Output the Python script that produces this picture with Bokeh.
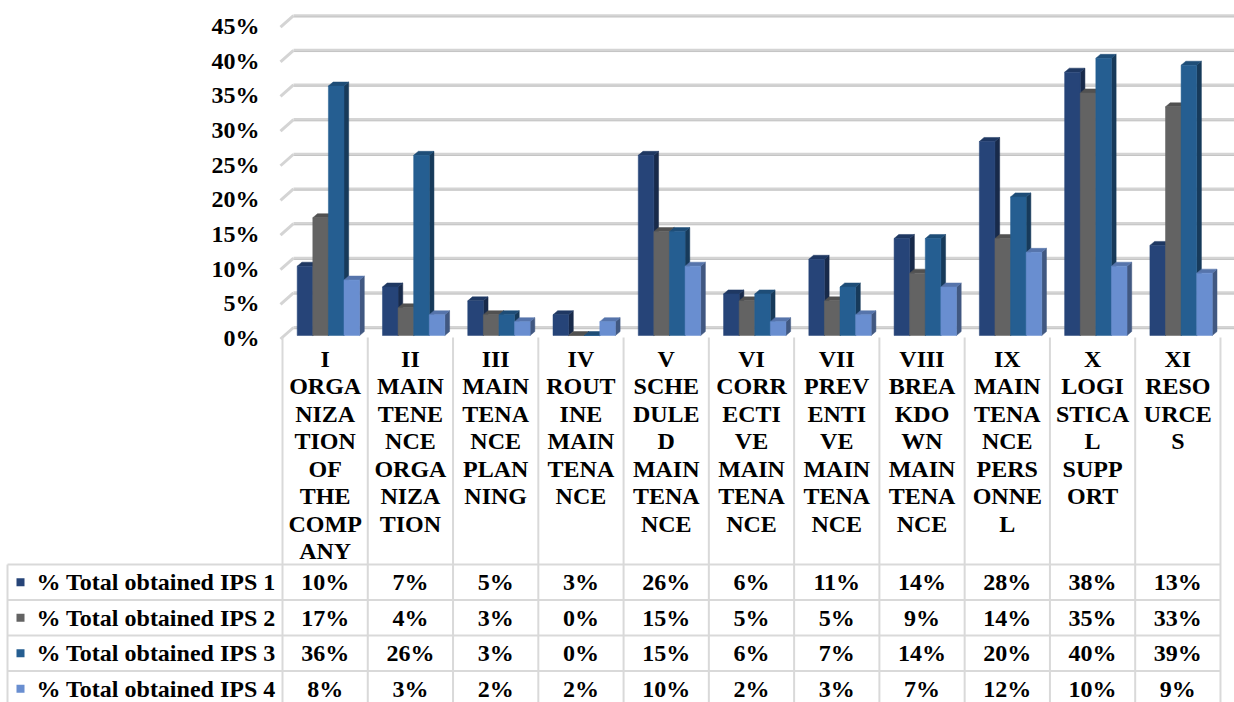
from bokeh.plotting import figure
from bokeh.models import Range1d
from bokeh.core.properties import value
from bokeh.embed import file_html
from bokeh.resources import INLINE

# ---- data -------------------------------------------------------------
categories = ["I", "II", "III", "IV", "V", "VI", "VII", "VIII", "IX", "X", "XI"]
category_labels = [
    "I\nORGA\nNIZA\nTION\nOF\nTHE\nCOMP\nANY",
    "II\nMAIN\nTENE\nNCE\nORGA\nNIZA\nTION",
    "III\nMAIN\nTENA\nNCE\nPLAN\nNING",
    "IV\nROUT\nINE\nMAIN\nTENA\nNCE",
    "V\nSCHE\nDULE\nD\nMAIN\nTENA\nNCE",
    "VI\nCORR\nECTI\nVE\nMAIN\nTENA\nNCE",
    "VII\nPREV\nENTI\nVE\nMAIN\nTENA\nNCE",
    "VIII\nBREA\nKDO\nWN\nMAIN\nTENA\nNCE",
    "IX\nMAIN\nTENA\nNCE\nPERS\nONNE\nL",
    "X\nLOGI\nSTICA\nL\nSUPP\nORT",
    "XI\nRESO\nURCE\nS",
]
series_names = [
    "% Total obtained IPS 1",
    "% Total obtained IPS 2",
    "% Total obtained IPS 3",
    "% Total obtained IPS 4",
]
ips1 = [10, 7, 5, 3, 26, 6, 11, 14, 28, 38, 13]
ips2 = [17, 4, 3, 0, 15, 5, 5, 9, 14, 35, 33]
ips3 = [36, 26, 3, 0, 15, 6, 7, 14, 20, 40, 39]
ips4 = [8, 3, 2, 2, 10, 2, 3, 7, 12, 10, 9]
series_values = [ips1, ips2, ips3, ips4]

y_ticks = [0, 5, 10, 15, 20, 25, 30, 35, 40, 45]
y_tick_labels = ["0%", "5%", "10%", "15%", "20%", "25%", "30%", "35%", "40%", "45%"]

# ---- styling ----------------------------------------------------------
front_colors = ["#264478", "#636363", "#255E91", "#698ED0"]
top_colors = ["#1f3862", "#515151", "#1e4d77", "#5674ab"]
side_colors = ["#182a4a", "#3d3d3d", "#173a5a", "#415881"]
grid_color = "#d4d4d4"
table_color = "#d9d9d9"


def text_style(align):
    return dict(text_font=value("Liberation Serif"), text_font_style="bold",
                text_font_size="24px", text_align=align, text_baseline="middle",
                text_color="black")


W, H = 1234, 702
COL_PX = 85.27       # width of one category column
PCT_PX = 6.93        # height of one percentage point
ORIGIN_X = 282       # left edge of the first category column
BASE_Y = 335         # baseline of the bar fronts (from top)

# 3D offsets, expressed in data units
BAR_W = 15.6 / COL_PX
BAR_START = 14.7 / COL_PX
BAR_DX = 4.7 / COL_PX
BAR_DY = 4.0 / PCT_PX
WALL_FRONT_X = -2.0 / COL_PX
WALL_BACK_X = 11.0 / COL_PX
WALL_FRONT_DY = -3.5 / PCT_PX
WALL_BACK_DY = 8.0 / PCT_PX
LABEL_X = -23.0 / COL_PX
LABEL_DY = -2.5 / PCT_PX

x_range = Range1d(-ORIGIN_X / COL_PX, (W - ORIGIN_X) / COL_PX)
y_range = Range1d(-(H - BASE_Y) / PCT_PX, BASE_Y / PCT_PX)

p = figure(width=W, height=H, x_range=x_range, y_range=y_range,
           output_backend="svg", toolbar_location=None,
           x_axis_location=None, y_axis_location=None, min_border=0)
p.grid.visible = False
p.outline_line_color = None
p.background_fill_color = "white"
p.border_fill_color = "white"
p.extra_x_ranges = {"px": Range1d(0, W)}
p.extra_y_ranges = {"py": Range1d(H, 0)}

# ---- back wall gridlines and side wall diagonals ------------------------
p.segment(x0=[WALL_BACK_X] * len(y_ticks), y0=[t + WALL_BACK_DY for t in y_ticks],
          x1=[x_range.end] * len(y_ticks), y1=[t + WALL_BACK_DY for t in y_ticks],
          line_color=grid_color, line_width=3)
p.segment(x0=[WALL_BACK_X] * len(y_ticks), y0=[t + WALL_BACK_DY - 0.18 for t in y_ticks],
          x1=[x_range.end] * len(y_ticks), y1=[t + WALL_BACK_DY - 0.18 for t in y_ticks],
          line_color="#c4c4c4", line_width=1)
p.segment(x0=[WALL_FRONT_X] * len(y_ticks), y0=[t + WALL_FRONT_DY for t in y_ticks],
          x1=[WALL_BACK_X] * len(y_ticks), y1=[t + WALL_BACK_DY for t in y_ticks],
          line_color=grid_color, line_width=3)

# ---- y tick labels ---------------------------------------------------
p.text(x=[LABEL_X] * len(y_ticks), y=[t + LABEL_DY for t in y_ticks], text=y_tick_labels,
       **text_style("right"))

# ---- 3D columns ------------------------------------------------------
side_xs, side_ys, side_c = [], [], []
top_xs, top_ys, top_c = [], [], []
fl, fr, ft, fc = [], [], [], []
for k, vals in enumerate(series_values):
    for i, v in enumerate(vals):
        left = i + BAR_START + k * BAR_W
        right = left + BAR_W
        side_xs.append([right, right + BAR_DX, right + BAR_DX, right])
        side_ys.append([0, BAR_DY, v + BAR_DY, v])
        side_c.append(side_colors[k])
        top_xs.append([left, right, right + BAR_DX, left + BAR_DX])
        top_ys.append([v, v, v + BAR_DY, v + BAR_DY])
        top_c.append(top_colors[k])
        fl.append(left)
        fr.append(right)
        ft.append(v)
        fc.append(front_colors[k])

p.patches(xs=side_xs, ys=side_ys, fill_color=side_c, line_color=side_c, line_width=0.5)
p.patches(xs=top_xs, ys=top_ys, fill_color=top_c, line_color=top_c, line_width=0.5)
p.quad(left=fl, right=fr, bottom=[0] * len(fl), top=ft,
       fill_color=fc, line_color=fc, line_width=0.5)

# ---- data table --------------------------------------------------------
row_edges = [564, 599.5, 635, 670.5, 706]
row_centers = [(a + b) / 2 for a, b in zip(row_edges[:-1], row_edges[1:])]
TABLE_LEFT = 7
HEADER_TOP = 337

# horizontal rules
p.segment(x0=[TABLE_LEFT] * len(row_edges), y0=row_edges,
          x1=[ORIGIN_X + len(categories) * COL_PX] * len(row_edges), y1=row_edges,
          line_color=table_color, line_width=2,
          x_range_name="px", y_range_name="py")
# column dividers (category units)
n = len(categories)
p.segment(x0=list(range(n + 1)), y0=[HEADER_TOP] * (n + 1),
          x1=list(range(n + 1)), y1=[row_edges[-1]] * (n + 1),
          line_color=table_color, line_width=2, y_range_name="py")
# left border of the legend column
p.segment(x0=[TABLE_LEFT], y0=[row_edges[0]], x1=[TABLE_LEFT], y1=[row_edges[-1]],
          line_color=table_color, line_width=2,
          x_range_name="px", y_range_name="py")

# category headers, one glyph per wrapped line
hx, hy, ht = [], [], []
for i, lab in enumerate(category_labels):
    for j, line in enumerate(lab.split("\n")):
        hx.append(i + 0.5)
        hy.append(358 + 27.5 * j)
        ht.append(line)
p.text(x=hx, y=hy, text=ht, y_range_name="py", **text_style("center"))

# legend keys and series names
p.quad(left=[16] * 4, right=[24] * 4,
       top=[c - 4 for c in row_centers], bottom=[c + 4 for c in row_centers],
       fill_color=front_colors, line_color=None,
       x_range_name="px", y_range_name="py")
p.text(x=[36] * 4, y=row_centers, text=series_names,
       x_range_name="px", y_range_name="py", **text_style("left"))

# table values
vx, vy, vt = [], [], []
for k, vals in enumerate(series_values):
    for i, v in enumerate(vals):
        vx.append(i + 0.5)
        vy.append(row_centers[k])
        vt.append(f"{v}%")
p.text(x=vx, y=vy, text=vt, y_range_name="py", **text_style("center"))

open("out.html", "w").write(file_html(p, INLINE))
